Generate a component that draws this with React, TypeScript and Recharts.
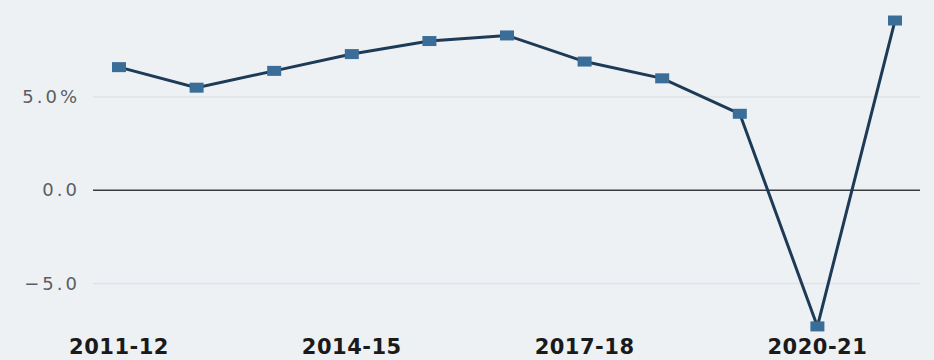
import { LineChart, Line, XAxis, YAxis, CartesianGrid, ReferenceLine } from "recharts";

const years = [
  "2011-12", "2012-13", "2013-14", "2014-15", "2015-16", "2016-17",
  "2017-18", "2018-19", "2019-20", "2020-21", "2021-22",
];
const growth = [6.6, 5.5, 6.4, 7.3, 8.0, 8.3, 6.9, 6.0, 4.1, -7.3, 9.1];
const yTicks = [-5, 0, 5];
const xTicks = ["2011-12", "2014-15", "2017-18", "2020-21"];

const data = years.map((year, i) => ({ year, growth: growth[i] }));

const formatY = (v: number) => {
  if (v === 0) return "0.0";
  if (v > 0) return `${v.toFixed(1)}%`;
  return `\u2212${Math.abs(v).toFixed(1)}`;
};

const SquareDot = (props: any) => {
  const { cx, cy } = props;
  if (cx == null || cy == null) return null;
  return <rect x={cx - 7} y={cy - 5} width={14} height={10} fill="#3a6d98" />;
};

const YTick = (props: any) => {
  const { x, y, payload } = props;
  return (
    <text
      x={x}
      y={y}
      dy={6}
      textAnchor="end"
      fill="#5a5e63"
      fontSize={18}
      letterSpacing={3}
      fontFamily="DejaVu Sans, sans-serif"
    >
      {formatY(payload.value)}
    </text>
  );
};

const XTick = (props: any) => {
  const { x, y, payload } = props;
  return (
    <text
      x={x}
      y={y}
      dy={14}
      textAnchor="middle"
      fill="#1a1a1a"
      fontSize={21}
      letterSpacing={0.5}
      fontWeight="bold"
      fontFamily="DejaVu Sans, sans-serif"
    >
      {payload.value}
    </text>
  );
};

export default function App() {
  return (
    <div style={{ position: "absolute", top: 0, left: 0, width: 934, height: 360, background: "#eef1f4" }}>
      <LineChart width={934} height={360} data={data} margin={{ top: 0, right: 14, left: 0, bottom: 0 }}>
        <CartesianGrid vertical={false} horizontalValues={[5, -5]} stroke="#dfe3e8" strokeWidth={1.5} />
        <XAxis
          dataKey="year"
          ticks={xTicks}
          interval={0}
          tick={<XTick />}
          tickLine={false}
          axisLine={false}
          height={28}
          padding={{ left: 26, right: 25 }}
        />
        <YAxis
          domain={[-7.6, 10.2]}
          ticks={yTicks}
          tick={<YTick />}
          tickLine={false}
          axisLine={false}
          width={93}
          tickMargin={7}
        />
        <ReferenceLine y={0} stroke="#3a3c3f" strokeWidth={1.5} />
        <Line
          type="linear"
          dataKey="growth"
          stroke="#1d3a56"
          strokeWidth={3}
          dot={<SquareDot />}
          activeDot={false}
          isAnimationActive={false}
        />
      </LineChart>
    </div>
  );
}
